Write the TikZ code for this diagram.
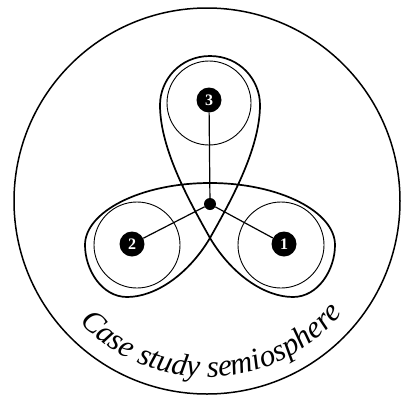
\documentclass[tikz,border=0pt]{standalone}
\usepackage{fontspec}
\setmainfont{Liberation Serif}
\usetikzlibrary{decorations.text}
\tikzset{
  outerring/.style={line width=1.5pt},
  loopline/.style={line width=1.7pt},
  thincirc/.style={line width=0.9pt},
  conn/.style={line width=1.2pt},
  badge/.style={circle, fill=black, inner sep=0pt, minimum size=25pt, text=white, font=\bfseries\fontsize{16}{16}\selectfont},
  hub/.style={circle, fill=black, inner sep=0pt, minimum size=12pt}
}
\begin{document}
\begin{tikzpicture}
\useasboundingbox (0,0) rectangle (402pt,-400pt);
\begin{scope}[x=1pt,y=1pt]
\draw[outerring] (207,-201) circle (193);
\draw[loopline] (210,-56) .. controls (180,-56) and (160,-80) .. (160,-105)
 .. controls (160,-150) and (191,-204) .. (210,-238)
 .. controls (232,-275) and (265,-297) .. (293,-297)
 .. controls (318,-297) and (335,-270) .. (335,-245)
 .. controls (335,-212) and (280,-183) .. (210,-183)
 .. controls (140,-183) and (85,-212) .. (85,-245)
 .. controls (85,-270) and (102,-297) .. (127,-297)
 .. controls (155,-297) and (188,-275) .. (210,-238)
 .. controls (229,-204) and (260,-150) .. (260,-105)
 .. controls (260,-80) and (240,-56) .. (210,-56) -- cycle;
\draw[thincirc] (209,-103) circle (42);
\draw[thincirc] (137,-245) circle (43);
\draw[thincirc] (281,-245) circle (43);
\node[hub] (hub) at (210,-204) {};
\node[badge] (b3) at (209,-100) {3};
\node[badge] (b2) at (132,-244) {2};
\node[badge] (b1) at (284,-244) {1};
\draw[conn] (hub) -- (b3);
\draw[conn] (hub) -- (b2);
\draw[conn] (hub) -- (b1);
\path[decorate, decoration={text along path, text align=center,
  text={|\itshape\fontsize{31}{34}\selectfont|Case study semiosphere}}]
  (207,-201) ++(205:176) arc (205:339:176);
\end{scope}
\end{tikzpicture}
\end{document}
